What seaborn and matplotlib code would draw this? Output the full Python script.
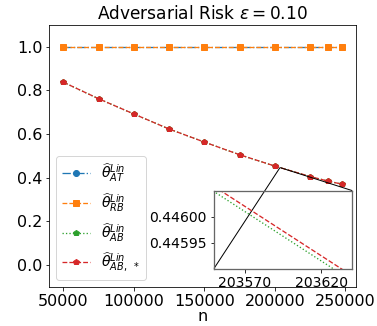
import matplotlib as mpl
import matplotlib.pyplot as plt
from matplotlib.ticker import FormatStrFormatter
from mpl_toolkits.axes_grid1.inset_locator import mark_inset
import pandas as pd
import seaborn as sns

# data
n = [50000, 75000, 100000, 125000, 150000, 175000, 200000, 225000, 237500, 247500]
risk_at = [1.0, 1.0, 1.0, 1.0, 1.0, 1.0, 1.0, 1.0, 1.0, 1.0]
risk_rb = [1.0, 1.0, 1.0, 1.0, 1.0, 1.0, 1.0, 1.0, 1.0, 1.0]
risk_ab = [0.838, 0.762, 0.692, 0.623, 0.563, 0.505, 0.45284, 0.40501, 0.384, 0.370]
risk_ab_star = [0.838, 0.762, 0.692, 0.623, 0.563, 0.505, 0.45285, 0.40502, 0.384, 0.370]

labels = [
    r"$\widehat{\theta}^{Lin}_{AT}$",
    r"$\widehat{\theta}^{Lin}_{RB}$",
    r"$\widehat{\theta}^{Lin}_{AB}$",
    r"$\widehat{\theta}^{Lin}_{AB,\ *}$",
]

inset_xlim = (203550, 203640)
inset_ylim = (0.44590, 0.44605)
inset_xticks = [203570, 203620]
inset_yticks = [0.44595, 0.44600]

df = pd.DataFrame({"n": n, "at": risk_at, "rb": risk_rb, "ab": risk_ab, "ab_star": risk_ab_star})

styles = [
    ("at", "tab:blue", "-.", "o"),
    ("rb", "tab:orange", "--", "s"),
    ("ab", "tab:green", ":", "p"),
    ("ab_star", "tab:red", "--", "p"),
]

DPI = 72
fig = plt.figure(figsize=(377 / DPI, 326 / DPI), dpi=DPI)
ax = fig.add_axes([0.131, 0.121, 0.813, 0.802])

for (col, color, ls, mk), lab in zip(styles, labels):
    sns.lineplot(data=df, x="n", y=col, ax=ax, color=color, linestyle=ls,
                 marker=mk, markersize=6, mec=color, mew=1, linewidth=1.3, label=lab)

ax.set_ylim(-0.1, 1.1)
ax.set_xticks([50000, 100000, 150000, 200000, 250000])
ax.set_yticks([0.0, 0.2, 0.4, 0.6, 0.8, 1.0])
ax.tick_params(labelsize=16)
ax.set_xlabel("n", fontsize=16, labelpad=0)
ax.set_ylabel("")
ax.set_title(r"Adversarial Risk $\varepsilon = 0.10$", fontsize=17)
ax.legend(loc="lower left", fontsize=14)

axins = ax.inset_axes([0.537, 0.069, 0.451, 0.298])
for (col, color, ls, mk) in styles[2:]:
    sns.lineplot(data=df, x="n", y=col, ax=axins, color=color, linestyle=ls,
                 marker=mk, markersize=6, mec=color, mew=1, linewidth=1.3, legend=False)
axins.set_xlim(*inset_xlim)
axins.set_ylim(*inset_ylim)
axins.set_xticks(inset_xticks)
axins.set_yticks(inset_yticks)
axins.xaxis.set_major_formatter(FormatStrFormatter("%d"))
axins.yaxis.set_major_formatter(FormatStrFormatter("%.5f"))
axins.tick_params(labelsize=14)
axins.set_xlabel("")
axins.set_ylabel("")
for sp in axins.spines.values():
    sp.set_color("0.4")
    sp.set_linewidth(1.3)

mark_inset(ax, axins, loc1=1, loc2=3, fc="none", ec="0.0", lw=1.0)

plt.savefig("out.png", dpi=DPI)
